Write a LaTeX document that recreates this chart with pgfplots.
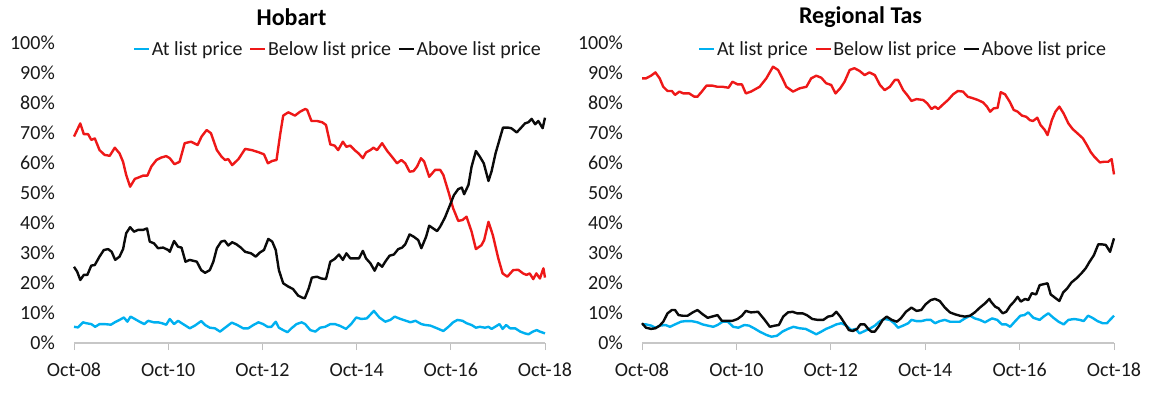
\documentclass[border=0pt]{standalone}
\usepackage{fontspec}
\setmainfont{Carlito}
\usepackage{pgfplots}
\pgfplotsset{compat=1.18}
\definecolor{atc}{RGB}{0,176,240}
\definecolor{bel}{RGB}{238,24,24}
\definecolor{abv}{RGB}{10,10,10}
\pgfplotsset{
 panel/.style={
  scale only axis, width=471pt, height=300pt, anchor=south west,
  xmin=0, xmax=120, ymin=0, ymax=100, clip=false,
  axis x line=bottom, axis y line=left,
  x axis line style={-, draw=black!22, line width=1.2pt},
  y axis line style={draw=none},
  xtick={0,24,48,72,96,120},
  xticklabels={Oct-08,Oct-10,Oct-12,Oct-14,Oct-16,Oct-18},
  ytick={0,10,20,30,40,50,60,70,80,90,100},
  yticklabels={0\%,10\%,20\%,30\%,40\%,50\%,60\%,70\%,80\%,90\%,100\%},
  tick align=outside, major tick length=7pt,
  xtick style={draw=black!25, line width=1pt},
  ytick style={draw=none},
  tick label style={font=\fontsize{20}{22}\selectfont, text=black!90},
  xticklabel style={inner sep=0pt, anchor=north, yshift=-13pt},
  yticklabel style={inner sep=0pt, anchor=east, xshift=-12pt},
  legend columns=-1,
  legend style={draw=none, fill=none, anchor=east, inner sep=0pt,
    font=\fontsize{20}{22}\selectfont, text=black!90,
    /tikz/every even column/.append style={column sep=5pt},
    nodes={inner xsep=1.5pt, inner ysep=0pt}},
  legend image code/.code={\draw[##1] (0pt,0pt) -- (15pt,0pt);},
  every axis plot/.append style={line width=2.4pt, line join=round},
 }
}
\begin{document}
\begin{tikzpicture}[x=1pt,y=1pt]
\path[use as bounding box] (0,0) rectangle (1160,394);
\node[font=\bfseries\fontsize{24}{26}\selectfont] at (291.5,377) {Hobart};
\node[font=\bfseries\fontsize{24}{26}\selectfont] at (860.5,377) {Regional Tas};
% ---------------- Hobart ----------------
\begin{axis}[panel, at={(74pt,51pt)}, legend style={at={(0.995,0.98)}}]
\addplot[atc] coordinates {
(0,5.4)(1,5.2)(2.3,6.9)(3.1,6.6)(4.4,6.3)(5.4,5.4)(6.5,6.3)(7.8,6.3)(9.4,6.1)(10.4,6.9)
(11.6,7.7)(12.7,8.5)(13.6,7.1)(14.4,8.8)(15.5,8)(16.7,7.1)(17.9,6.3)(18.9,7.4)(20.3,6.9)(21.4,6.9)
(22.4,6.6)(23.5,6.1)(24.4,8)(25.5,6.3)(26.5,7.4)(27.8,6.3)(29.5,4.9)(30.8,5.8)(32.4,7.3)(33.4,6)
(34.6,5.1)(35.9,4.9)(37.2,3.8)(38.5,5.1)(40.2,6.8)(41.6,6)(43.1,4.9)(44.4,4.9)(45.7,6)(47,6.9)
(48.2,6.3)(49.3,5.4)(50.3,5.4)(51.4,7.1)(52.2,5.1)(53.3,4.3)(54.4,3.6)(55.4,4.9)(56.7,6.3)(58,6.9)
(58.9,6.3)(60.2,4.3)(61.5,3.8)(62.7,5.1)(64,5.4)(65.3,6.3)(66.5,6.3)(67.8,5.7)(69.3,4.7)(70.6,6.3)
(71.9,8.5)(73.2,8)(74.6,8.2)(76.4,10.7)(77.8,8.5)(79.3,7.1)(80.6,7.7)(81.7,8.8)(83.2,8)(84.6,7.4)
(85.7,6.9)(87,7.4)(88.5,6.3)(89.5,6)(90.8,5.8)(92.5,4.9)(94.1,4)(95.4,5.4)(96.6,6.9)(97.7,7.7)
(99,7.4)(100,6.6)(101.3,6)(102.4,5.1)(103.4,5.4)(104.7,5.1)(105.6,5.4)(106.4,4.7)(107.3,5.4)(108.4,6.3)
(109.2,4.7)(110.1,6)(111.1,4.9)(112.4,4.9)(113.7,3.8)(114.9,3.2)(115.8,2.9)(116.9,3.8)(117.9,4.3)(118.7,3.8)
(120,3.2)};
\addlegendentry{At list price}
\addplot[bel] coordinates {
(0,68.8)(1.6,73.2)(2.5,69.6)(3.6,69.6)(4.4,67.7)(5.3,68.2)(6.5,64.3)(7.8,62.7)(9.1,62.4)(10.4,65.1)
(11.6,63.2)(12.5,60.4)(13.3,56)(14.3,52.1)(15.5,54.7)(16.7,55.3)(17.6,55.8)(18.7,55.8)(19.7,58.8)(21,61)
(22.2,61.8)(23.5,62.3)(24.4,61.6)(25.6,59.6)(26.9,60.4)(28.2,66.6)(29.8,67.1)(31.5,66)(32.5,68.8)(33.8,71)
(34.9,69.9)(36.4,64.3)(37.6,62.1)(38.5,61)(39.3,61.3)(40.3,59.3)(41.9,61.3)(43.6,64.7)(45.3,64.3)(47,63.6)
(48.4,62.9)(49.4,59.9)(50.5,60.7)(51.6,61)(52.5,69.3)(53.3,75.8)(54.6,76.9)(56.3,75.8)(57.6,77.1)(58.9,78)
(59.4,77.7)(60.5,74)(61.9,74)(63.2,73.6)(64.2,72.7)(65.3,66.2)(66.4,65.8)(67.3,64.3)(68.5,67.1)(69.4,65.4)
(70.4,65.8)(71.5,64.3)(72.5,63.2)(73.6,61.6)(74.4,63.5)(75.5,64.3)(76.3,65.1)(77.2,64.3)(78.5,66.6)(79.8,64)
(81,62.1)(82.3,59.9)(83.4,61)(84.4,59.9)(85.5,57.1)(86.5,57.3)(87.4,58.8)(88.4,61.6)(89.2,60.5)(90.5,55.4)
(92,57.7)(93.3,57.7)(94.1,56)(95.4,50.4)(96.6,44.9)(97.9,40.7)(99,41)(100,42.1)(101.3,37.1)(102.4,31.3)
(103.8,32.6)(104.5,34.3)(105.6,40.4)(106.7,36)(108.1,28.2)(109.2,23.2)(110.4,22.1)(111.9,24.3)(113.2,24.4)(114.4,23.2)
(115.3,22.7)(116.1,23.2)(117,21.3)(117.8,23.2)(118.7,21.5)(119.6,24.9)(120,21.8)};
\addlegendentry{Below list price}
\addplot[abv] coordinates {
(0,25.4)(0.8,23.8)(1.6,21)(2.5,22.7)(3.4,22.7)(4.4,25.8)(5.3,26)(6.5,28.8)(7.6,31)(8.7,31.3)
(9.6,30.4)(10.5,27.7)(11.6,28.8)(12.5,31.3)(13.3,36.6)(14.3,38.6)(15.3,37.1)(16.3,37.7)(17.6,37.7)(18.6,38.2)
(19.3,33.8)(20.4,33.2)(21.4,31.6)(22.7,31.8)(24,31)(24.4,30.4)(25.5,34)(26.5,32.1)(27.4,31.8)(28.4,27.1)
(29.5,27.7)(31.3,27.1)(32.4,24.3)(33.4,23.4)(34.6,24.3)(35.5,27.1)(36.4,31.6)(37.5,33.8)(38.4,34.1)(39.3,32.5)
(40.3,33.6)(41.4,32.9)(42.5,31.8)(43.6,30.4)(45.1,29.9)(46.3,28.8)(47.4,30.2)(48.4,31)(49.5,34.7)(50.5,33.8)
(51.4,31)(52.2,24.3)(53.3,19.9)(54.6,18.8)(55.8,18)(57.1,15.8)(58.2,15.1)(58.8,14.9)(59.8,18.2)(60.6,21.8)
(61.9,22.1)(63,21.5)(64.2,21.3)(65.3,27.1)(66.4,28)(67.5,29.5)(68.5,27.7)(69.4,29.9)(70.4,28.2)(71.7,28.2)
(72.6,28.2)(73.6,30.7)(74.4,28.2)(75.5,26.6)(76.6,24.1)(77.5,26.6)(78.5,25.4)(79.4,27.3)(80.4,29.1)(81.5,29.5)
(82.6,31.3)(83.6,31.8)(84.4,32.9)(85.5,36.2)(86.6,35.4)(87.7,34.3)(88.5,31.6)(89.7,35.4)(90.5,39.1)(91.5,38.2)
(92.5,37.3)(93.3,38.8)(94.5,41.8)(95.8,46)(96.8,49.3)(97.9,51.3)(98.8,51.8)(99.4,49.6)(100.5,52.7)(101.3,58.8)
(102.4,64)(103.4,62.1)(104.4,59.9)(105.6,54)(106.4,57.3)(107.4,63.2)(108.5,68.2)(109.3,71.8)(110.6,71.8)(111.4,71.6)
(112.8,70.2)(113.8,71.6)(114.9,73.2)(115.8,73.6)(116.6,74.7)(117.5,72.9)(118.3,74)(119.4,71.6)(120,75.1)};
\addlegendentry{Above list price}
\end{axis}
% ---------------- Regional Tas ----------------
\begin{axis}[panel, at={(642pt,51pt)}, width=472pt, legend style={at={(0.987,0.98)}}]
\addplot[atc] coordinates {
(0,6.2)(1,6.2)(2.3,5.8)(3.4,5.1)(4.6,5.8)(6,6)(7.1,5.4)(8.4,6.2)(9.9,7.1)(11.1,7.3)
(12.6,7.3)(14.1,6.9)(15.4,6.2)(16.7,5.8)(18.1,5.4)(19.2,6)(20.5,7.1)(21.8,7.1)(23.2,5.4)(24.5,5.1)
(26,6)(27.2,5.8)(28.5,4.9)(29.9,3.8)(31.6,2.7)(32.9,2.1)(34.3,2.4)(35.7,3.8)(37.1,4.7)(38.5,5.4)
(40.1,4.9)(41.6,4.7)(43,3.8)(44.3,2.9)(45.6,3.8)(46.8,4.7)(48.1,5.4)(49.4,6.2)(50.7,6.6)(51.9,5.8)
(53.2,4.3)(54.3,4.7)(55.3,3.2)(56.6,4)(57.8,4.7)(59.2,5.8)(60.5,7.3)(61.7,8)(63,7.7)(64.1,6.6)
(65.1,5.1)(66.4,5.8)(67.7,6.6)(68.5,7.7)(69.8,7.3)(71,7.3)(72.3,7.7)(73.4,7.7)(74.5,6.6)(75.7,7.3)
(77,7.7)(78.3,7.1)(79.5,7.1)(80.8,7.1)(82.1,8.2)(83.4,9.1)(84.6,8.2)(85.9,7.7)(87.2,6.9)(88.3,7.7)
(89,8.2)(90.3,7.7)(91.5,6.2)(92.6,6.2)(93.6,5.4)(94.9,7.3)(96.2,9.1)(97.2,9.3)(98.2,10.2)(99.5,8.4)
(101.1,7.7)(102.1,8.8)(103.3,9.9)(104.6,8.4)(105.9,7.1)(107.2,6.2)(108.4,7.7)(109.9,8)(111.3,7.7)(112.3,7.3)
(113.4,9.1)(114.5,8.4)(115.8,7.3)(117.1,6.6)(118.2,6.6)(119.2,8)(120,9.1)};
\addlegendentry{At list price}
\addplot[bel] coordinates {
(0,88.2)(1,88.2)(2.3,89.1)(3.4,90.2)(4.5,88.2)(5.4,85.4)(6.5,84)(7.6,84)(8.4,82.7)(9.5,83.8)
(10.5,83.2)(12,83.2)(13.3,82.1)(14.1,82.1)(15.2,83.8)(16.4,85.8)(17.8,85.8)(19.2,85.4)(20.5,85.4)(22,85.1)
(23,87.1)(24.3,86.2)(25.4,86.2)(26.4,83.2)(27.7,83.8)(29.9,85.4)(31.6,88.2)(33.3,92.1)(34.6,91)(35.7,88.2)
(36.7,85.4)(38.4,83.8)(40.1,84.9)(41.8,85.4)(43,88.2)(44.3,89.1)(45.6,88.4)(46.8,86.6)(48.1,86)(49.2,83.2)
(50.4,84.9)(51.5,87.1)(52.8,91)(54,91.6)(55.3,90.7)(56.6,89.3)(57.8,90.2)(59.2,89.3)(60.5,86)(61.7,84.3)
(63,85.4)(64.3,87.7)(65.1,87.7)(66.4,84.3)(67.4,82.7)(68.5,80.7)(69.8,81.3)(71.5,81)(72.5,79.9)(73.6,78)
(74.5,78.8)(75.3,78)(76.6,79.6)(77.8,81)(79.1,82.9)(80.3,84)(81.6,83.8)(82.8,82.1)(84.1,81.6)(85.4,81)
(86.7,80.2)(87.7,78.8)(88.5,77.1)(89.4,78.2)(90.4,78.4)(91.2,83.6)(92.3,82.9)(93.5,80.4)(94.5,77.7)(95.5,77.1)
(96.6,75.8)(97.7,75.4)(98.6,74.3)(99.4,74)(100.5,75.1)(101.3,72.7)(102.4,71)(103.1,69.3)(104.2,74.3)(105.1,77.1)
(106.1,78.8)(107.2,76.5)(108.4,73.2)(109.5,71.3)(110.7,69.9)(112.1,68.2)(113.1,66)(114.1,63.6)(115,62.1)(116.4,60.2)
(117.4,60.4)(118.5,60.4)(119.4,61.3)(120,56.2)};
\addlegendentry{Below list price}
\addplot[abv] coordinates {
(0,6.6)(1,5.1)(2.3,4.7)(3.4,4.9)(4.5,5.8)(5.4,7.1)(6.5,9.9)(7.6,11)(8.4,11)(9.3,9.3)
(10.3,9.1)(11.6,9.1)(12.9,10.2)(14.1,11)(15.4,9.6)(16.7,8.4)(17.8,8.8)(19.2,9.3)(20.3,7.4)(21.5,7.4)
(23,7.4)(24.3,8)(25.4,9.1)(26.4,10.7)(27.7,10.2)(29.5,10.4)(31.2,7.7)(32.5,5.4)(33.8,5.8)(34.8,6)
(35.9,8.8)(37.1,10.2)(38.3,10.4)(39.4,9.9)(40.8,9.9)(41.9,9.3)(43.3,8)(44.7,7.7)(46.1,7.7)(47.3,8.8)
(48.4,9.1)(49.4,10.4)(50.4,8.8)(51.5,6.6)(52.6,4.3)(53.6,4)(54.7,4.7)(55.5,6.2)(56.6,6.2)(57.5,4.7)
(58.3,3.8)(59.2,3.8)(60.1,5.4)(61.2,7.7)(62.2,8.8)(63.5,7.7)(64.8,7.1)(65.8,8.2)(67.1,10.4)(68.5,11.8)
(69.8,10.7)(71,11)(72.1,12.9)(73.4,14.3)(74.5,14.7)(75.7,14)(77,11.8)(78.3,10.2)(79.5,9.6)(80.8,9.1)
(82.1,8.8)(83.4,9.1)(84.6,10.2)(85.9,11.8)(87.2,13.2)(88.3,14.7)(88.7,13.8)(89.8,12.1)(90.6,11.6)(91.7,9.9)
(92.6,10.4)(93.6,12.4)(94.6,13.8)(95.5,15.4)(96.3,13.8)(97.4,14.7)(98.2,14.3)(99.1,16.6)(100.2,16.2)(101.1,19.3)
(102.1,19.6)(103.1,19.9)(103.9,16.2)(105,15.1)(106.1,14)(107.1,16.9)(108.1,18.2)(109.2,20.2)(110.5,21.6)(111.7,23.2)
(112.8,24.9)(113.8,27.1)(114.9,29.3)(116,32.9)(116.8,32.9)(117.9,32.7)(119,30.4)(120,34.9)};
\addlegendentry{Above list price}
\end{axis}
\end{tikzpicture}
\end{document}
